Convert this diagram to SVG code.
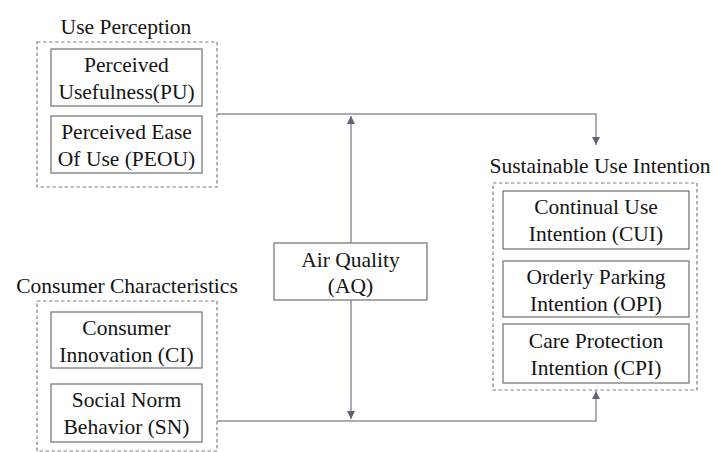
<svg xmlns="http://www.w3.org/2000/svg" width="715" height="452" viewBox="0 0 715 452">
<defs>
<style>
text{font-family:"Liberation Serif","DejaVu Serif",serif;font-size:21.5px;fill:#141414;text-anchor:middle}
.box{fill:#fff;stroke:#7a7a7a;stroke-width:1.3}
.grp{fill:none;stroke:#7f7f7f;stroke-width:1.2;stroke-dasharray:3.5 2.5}
.con{fill:none;stroke:#8d929c;stroke-width:1.5}
</style>
<marker id="ah" viewBox="0 0 10 10" refX="10" refY="5" markerWidth="8" markerHeight="8" markerUnits="userSpaceOnUse" orient="auto">
<path d="M0,0 L10,5 L0,10 z" fill="#5e6472"/>
</marker>
</defs>
<rect width="715" height="452" fill="#fff"/>

<g id="connectors">
<polyline class="con" points="217,114 596,114 596,145" marker-end="url(#ah)"/>
<polyline class="con" points="217,421 596,421 596,391" marker-end="url(#ah)"/>
<line class="con" x1="351" y1="243" x2="351" y2="116" marker-end="url(#ah)"/>
<line class="con" x1="351" y1="300" x2="351" y2="419" marker-end="url(#ah)"/>
</g>

<g id="use-perception">
<text x="126" y="34">Use Perception</text>
<rect class="grp" x="37" y="42" width="180" height="145"/>
</g>
<g id="pu">
<rect class="box" x="51" y="49" width="151" height="57"/>
<text x="126.5" y="72">Perceived</text>
<text x="126.5" y="99">Usefulness(PU)</text>
</g>
<g id="peou">
<rect class="box" x="51" y="116" width="151" height="57"/>
<text x="126.5" y="139">Perceived Ease</text>
<text x="126.5" y="166">Of Use (PEOU)</text>
</g>

<g id="consumer-characteristics">
<text x="127" y="293">Consumer Characteristics</text>
<rect class="grp" x="37" y="301" width="180" height="150"/>
</g>
<g id="ci">
<rect class="box" x="51" y="312" width="151" height="56"/>
<text x="126.5" y="335">Consumer</text>
<text x="126.5" y="362">Innovation (CI)</text>
</g>
<g id="sn">
<rect class="box" x="51" y="384" width="151" height="58"/>
<text x="126.5" y="407">Social Norm</text>
<text x="126.5" y="434">Behavior (SN)</text>
</g>

<g id="aq">
<rect class="box" x="274" y="243" width="153" height="57"/>
<text x="350.5" y="267">Air Quality</text>
<text x="350.5" y="293">(AQ)</text>
</g>

<g id="sustainable-use-intention">
<text x="600" y="173">Sustainable Use Intention</text>
<rect class="grp" x="493" y="183" width="204" height="207"/>
</g>
<g id="cui">
<rect class="box" x="503" y="191" width="186" height="58"/>
<text x="596" y="214">Continual Use</text>
<text x="596" y="241">Intention (CUI)</text>
</g>
<g id="opi">
<rect class="box" x="503" y="261" width="186" height="56"/>
<text x="596" y="284">Orderly Parking</text>
<text x="596" y="311">Intention (OPI)</text>
</g>
<g id="cpi">
<rect class="box" x="503" y="324" width="186" height="59"/>
<text x="596" y="348">Care Protection</text>
<text x="596" y="375">Intention (CPI)</text>
</g>
</svg>
